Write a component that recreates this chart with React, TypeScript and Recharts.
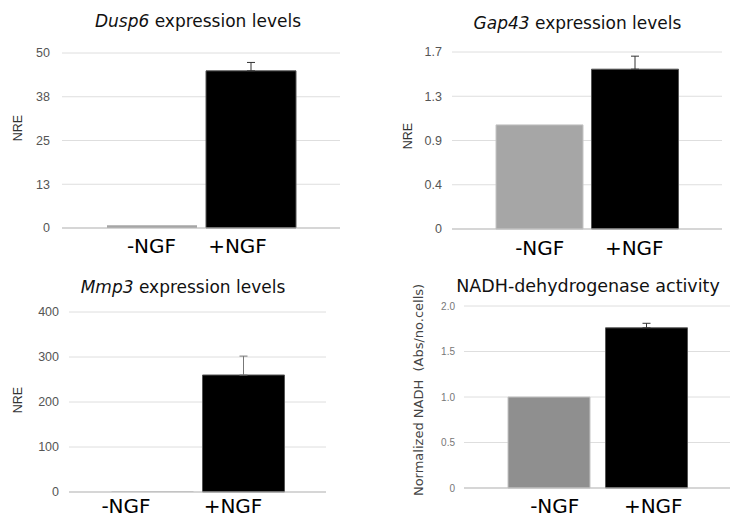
import React from 'react';
import { BarChart, Bar, XAxis, YAxis, CartesianGrid, ErrorBar, Cell } from 'recharts';

// ---- data ----
const categories = ['-NGF', '+NGF'];

const dusp6Values = [0.8, 44.9];
const dusp6Errors: (number[] | null)[] = [null, [0, 2.4]];
const dusp6Ticks = [0, 12.5, 25, 37.5, 50];
const dusp6TickLabels = ['0', '13', '25', '38', '50'];

const gap43Values = [1.0, 1.535];
const gap43Errors: (number[] | null)[] = [null, [0, 0.125]];
const gap43Ticks = [0, 0.425, 0.85, 1.275, 1.7];
const gap43TickLabels = ['0', '0.4', '0.9', '1.3', '1.7'];

const mmp3Values = [1, 260];
const mmp3Errors: (number[] | null)[] = [null, [0, 42]];
const mmp3Ticks = [0, 100, 200, 300, 400];
const mmp3TickLabels = ['0', '100', '200', '300', '400'];

const nadhValues = [1.0, 1.76];
const nadhErrors: (number[] | null)[] = [null, [0, 0.05]];
const nadhTicks = [0, 0.5, 1.0, 1.5, 2.0];
const nadhTickLabels = ['0', '0.5', '1.0', '1.5', '2.0'];

const build = (vals: number[], errs: (number[] | null)[]) =>
  categories.map((c, i) => ({ name: c, value: vals[i], err: errs[i] }));

const SANS = '"DejaVu Sans", Verdana, sans-serif';
const ARIAL = '"Liberation Sans", Arial, sans-serif';

type PanelProps = {
  left: number; top: number; width: number; height: number;
  margin: { top: number; right: number; bottom: number; left: number };
  yWidth: number; xHeight: number;
  pad: { left: number; right: number };
  barSize: number;
  data: any[];
  ticks: number[]; tickLabels: string[];
  tickFont: number; tickColor: string; tickMargin: number;
  fills: string[]; strokes: string[];
  errColor: string;
  labelOffsets: number[]; labelDy: number;
  yLabel: string; yLabelX: number; yLabelY: number; yLabelFont: number; yLabelFamily: string; yLabelColor: string;
  titleItalic: string; titleRest: string; titleX: number; titleY: number; titleSize: number;
};

function Panel(p: PanelProps) {
  const XTick = (tp: any) => {
    const { x, y, payload, index } = tp;
    return (
      <text x={x + p.labelOffsets[index]} y={y + p.labelDy} textAnchor="middle"
        fontFamily={SANS} fontSize={20} fill="#000">{payload.value}</text>
    );
  };
  const YLab = () => (
    <text x={p.yLabelX} y={p.yLabelY} transform={`rotate(-90 ${p.yLabelX} ${p.yLabelY})`}
      textAnchor="middle" dominantBaseline="central" fontFamily={p.yLabelFamily}
      fontSize={p.yLabelFont} fill={p.yLabelColor} style={{ whiteSpace: 'pre' }}>{p.yLabel}</text>
  );
  return (
    <div style={{ position: 'absolute', left: p.left, top: p.top, width: p.width, height: p.height }}>
      <svg style={{ position: 'absolute', left: 0, top: 0 }} width={p.width} height={p.height}>
        <text x={p.titleX} y={p.titleY} textAnchor="middle" fontFamily={SANS} fontSize={p.titleSize} fill="#111">
          {p.titleItalic ? <tspan fontStyle="italic">{p.titleItalic}</tspan> : null}
          <tspan>{p.titleRest}</tspan>
        </text>
        <YLab />
      </svg>
      <div style={{ position: 'absolute', left: 0, top: 0 }}>
        <BarChart width={p.width} height={p.height} data={p.data} margin={p.margin}>
          <CartesianGrid vertical={false} stroke="#dedede" />
          <XAxis dataKey="name" height={p.xHeight} padding={p.pad} interval={0}
            tickLine={false} tickSize={0} tickMargin={0} axisLine={{ stroke: '#bdbdbd' }} tick={<XTick />} />
          <YAxis width={p.yWidth} domain={[p.ticks[0], p.ticks[p.ticks.length - 1]]} ticks={p.ticks}
            interval={0} axisLine={false} tickLine={false} tickSize={0} tickMargin={p.tickMargin}
            tick={{ fontFamily: ARIAL, fontSize: p.tickFont, fill: p.tickColor }}
            tickFormatter={(v: number) => p.tickLabels[p.ticks.indexOf(v)] ?? String(v)} />
          <Bar dataKey="value" barSize={p.barSize} isAnimationActive={false}>
            {p.data.map((_, i) => (
              <Cell key={i} fill={p.fills[i]} stroke={p.strokes[i]} strokeWidth={1} />
            ))}
            <ErrorBar dataKey="err" direction="y" width={4} stroke={p.errColor} strokeWidth={1} />
          </Bar>
        </BarChart>
      </div>
    </div>
  );
}

export default function App() {
  return (
    <div style={{ position: 'absolute', left: 0, top: 0, width: 730, height: 518, background: '#fff', overflow: 'hidden' }}>
      <Panel left={0} top={0} width={365} height={260}
        margin={{ top: 53, right: 25, bottom: 0, left: 0 }} yWidth={62} xHeight={32}
        pad={{ left: 40, right: 40 }} barSize={90}
        data={build(dusp6Values, dusp6Errors)} ticks={dusp6Ticks} tickLabels={dusp6TickLabels}
        tickFont={12.5} tickColor="#555" tickMargin={12}
        fills={['#a6a6a6', '#000']} strokes={['none', '#555']} errColor="#333"
        labelOffsets={[0, -13]} labelDy={25}
        yLabel="NRE" yLabelX={18} yLabelY={128} yLabelFont={12.5} yLabelFamily={ARIAL} yLabelColor="#333"
        titleItalic="Dusp6" titleRest=" expression levels" titleX={198} titleY={27} titleSize={17} />
      <Panel left={365} top={0} width={365} height={260}
        margin={{ top: 52, right: 8, bottom: 0, left: 0 }} yWidth={87} xHeight={31}
        pad={{ left: 40, right: 39 }} barSize={87}
        data={build(gap43Values, gap43Errors)} ticks={gap43Ticks} tickLabels={gap43TickLabels}
        tickFont={12.5} tickColor="#555" tickMargin={10}
        fills={['#a6a6a6', '#000']} strokes={['#c4c4c4', '#555']} errColor="#333"
        labelOffsets={[0, -1]} labelDy={26}
        yLabel="NRE" yLabelX={43} yLabelY={136} yLabelFont={12.5} yLabelFamily={ARIAL} yLabelColor="#333"
        titleItalic="Gap43" titleRest=" expression levels" titleX={212.5} titleY={29} titleSize={17} />
      <Panel left={0} top={260} width={365} height={258}
        margin={{ top: 52, right: 39, bottom: 0, left: 0 }} yWidth={69} xHeight={26}
        pad={{ left: 37.5, right: 37.5 }} barSize={82}
        data={build(mmp3Values, mmp3Errors)} ticks={mmp3Ticks} tickLabels={mmp3TickLabels}
        tickFont={12.5} tickColor="#555" tickMargin={10}
        fills={['#a6a6a6', '#000']} strokes={['none', '#555']} errColor="#777"
        labelOffsets={[-26, -10]} labelDy={21}
        yLabel="NRE" yLabelX={18} yLabelY={140} yLabelFont={12.5} yLabelFamily={ARIAL} yLabelColor="#333"
        titleItalic="Mmp3" titleRest=" expression levels" titleX={183} titleY={33} titleSize={17} />
      <Panel left={365} top={260} width={365} height={258}
        margin={{ top: 46, right: 0, bottom: 0, left: 0 }} yWidth={99} xHeight={30}
        pad={{ left: 36, right: 35 }} barSize={82}
        data={build(nadhValues, nadhErrors)} ticks={nadhTicks} tickLabels={nadhTickLabels}
        tickFont={10} tickColor="#777" tickMargin={9}
        fills={['#8f8f8f', '#000']} strokes={['#c4c4c4', '#555']} errColor="#333"
        labelOffsets={[6, 7]} labelDy={25}
        yLabel="Normalized NADH  (Abs/no.cells)" yLabelX={53} yLabelY={130} yLabelFont={13} yLabelFamily={SANS} yLabelColor="#444"
        titleItalic="" titleRest="NADH-dehydrogenase activity" titleX={223} titleY={32} titleSize={17.5} />
    </div>
  );
}
